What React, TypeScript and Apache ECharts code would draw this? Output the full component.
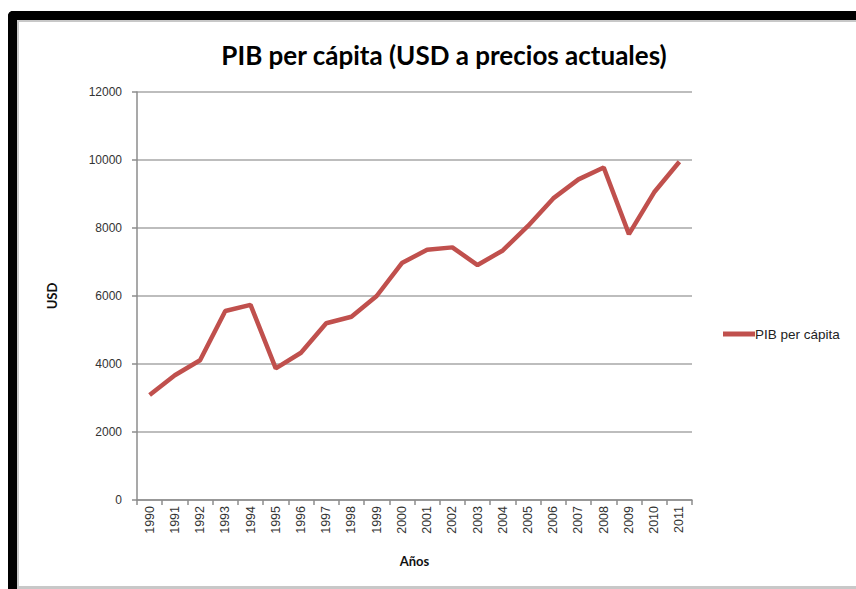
import React, { useEffect, useRef } from "react";
import * as echarts from "echarts";

const years = ["1990","1991","1992","1993","1994","1995","1996","1997","1998","1999","2000","2001","2002","2003","2004","2005","2006","2007","2008","2009","2010","2011"];
const pibPerCapita = [3090, 3670, 4110, 5560, 5740, 3870, 4330, 5200, 5390, 6000, 6970, 7360, 7430, 6910, 7340, 8060, 8870, 9430, 9780, 7820, 9050, 9950];
const seriesName = "PIB per cápita";
const titleText = "PIB per cápita (USD a precios actuales)";

export default function App() {
  const ref = useRef<HTMLDivElement>(null);
  useEffect(() => {
    if (!ref.current) return;
    const chart = echarts.init(ref.current, undefined, { renderer: "svg" });
    chart.setOption({
      animation: false,
      backgroundColor: "#ffffff",
      title: {
        text: titleText,
        left: 439,
        textAlign: "center",
        top: 37,
        textStyle: { fontFamily: "Lato", fontWeight: "bold", fontSize: 26, color: "#000000" },
      },
      legend: {
        left: 718,
        top: 322,
        orient: "vertical",
        icon: "rect",
        itemWidth: 32,
        itemHeight: 5,
        textStyle: { fontFamily: "Liberation Sans", fontSize: 13.5, color: "#222222", padding: [0, 0, 0, -5] },
        data: [seriesName],
      },
      grid: { left: 137, right: 164, top: 92, bottom: 89 },
      xAxis: {
        type: "category",
        data: years,
        boundaryGap: true,
        name: "Años",
        nameLocation: "middle",
        nameGap: 54,
        nameTextStyle: { fontFamily: "Lato", fontWeight: "bold", fontSize: 13, color: "#111111" },
        axisLine: { lineStyle: { color: "#8c8c8c", width: 1.5 } },
        axisTick: { show: true, interval: 0, length: 5, lineStyle: { color: "#8c8c8c", width: 1.5 } },
        axisLabel: { rotate: 90, interval: 0, fontFamily: "Liberation Sans", fontSize: 12.5, color: "#333333", margin: 6 },
      },
      yAxis: {
        type: "value",
        min: 0,
        max: 12000,
        interval: 2000,
        name: "USD",
        nameLocation: "middle",
        nameGap: 79,
        nameRotate: 90,
        nameTextStyle: { fontFamily: "Lato", fontWeight: "bold", fontSize: 13, color: "#111111" },
        axisLine: { show: true, lineStyle: { color: "#8c8c8c", width: 1.5 } },
        axisTick: { show: true, length: 5, lineStyle: { color: "#8c8c8c", width: 1.5 } },
        axisLabel: { fontFamily: "Liberation Sans", fontSize: 12, color: "#333333", margin: 15, formatter: (v: number) => String(v) },
        splitLine: { lineStyle: { color: "#bdbdbd", width: 2 } },
      },
      series: [
        {
          name: seriesName,
          type: "line",
          data: pibPerCapita,
          symbol: "none",
          lineStyle: { color: "#c0504d", width: 4.5 },
          itemStyle: { color: "#c0504d" },
        },
      ],
      graphic: [
        { type: "rect", shape: { x: 8, y: 11, width: 900, height: 9, r: [5, 0, 0, 0] }, style: { fill: "#000000" }, silent: true },
        { type: "rect", shape: { x: 8, y: 11, width: 9, height: 600, r: [5, 0, 0, 0] }, style: { fill: "#000000" }, silent: true },
        { type: "rect", shape: { x: 17, y: 20, width: 900, height: 2 }, style: { fill: "#c8c8c8" }, silent: true },
        { type: "rect", shape: { x: 17, y: 20, width: 2, height: 600 }, style: { fill: "#c8c8c8" }, silent: true },
        { type: "rect", shape: { x: 17, y: 586, width: 900, height: 3 }, style: { fill: "#c8c8c8" }, silent: true },
      ],
    });
    return () => chart.dispose();
  }, []);
  return <div ref={ref} style={{ position: "fixed", left: 0, top: 0, width: 856, height: 589 }} />;
}
